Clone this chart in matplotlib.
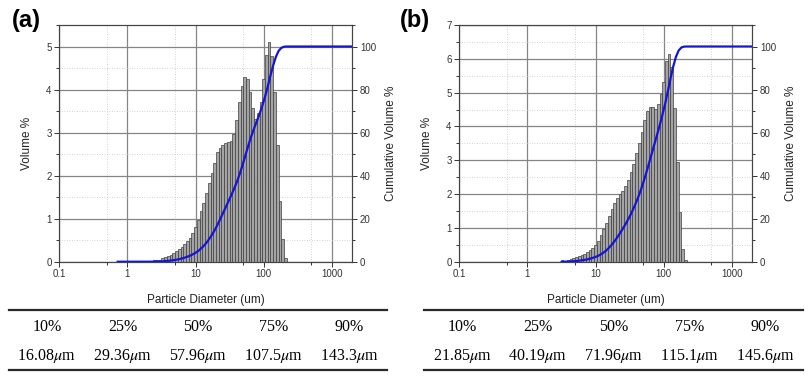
import numpy as np
import matplotlib
matplotlib.use('Agg')
import matplotlib.pyplot as plt
from matplotlib.ticker import FixedLocator, MultipleLocator, NullFormatter, FixedFormatter
from matplotlib.lines import Line2D

plt.rcParams['font.family'] = ['Liberation Sans', 'DejaVu Sans']
plt.rcParams['mathtext.fontset'] = 'stix'

# size classes (um), 25 per decade
diam_a = [2.09, 2.29, 2.51, 2.75, 3.02, 3.31, 3.63, 3.98, 4.37, 4.79,
          5.25, 5.75, 6.31, 6.92, 7.59, 8.32, 9.12, 10.0, 11.0, 12.0,
          13.2, 14.5, 15.8, 17.4, 19.1, 20.9, 22.9, 25.1, 27.5, 30.2,
          33.1, 36.3, 39.8, 43.7, 47.9, 52.5, 57.5, 63.1, 69.2, 75.9,
          83.2, 91.2, 100, 110, 120, 132, 145, 158, 174, 191, 209]
vol_a = [0.01, 0.02, 0.03, 0.04, 0.05, 0.08, 0.10, 0.13, 0.16, 0.20,
         0.24, 0.29, 0.34, 0.40, 0.47, 0.55, 0.66, 0.80, 0.98, 1.18,
         1.37, 1.59, 1.82, 2.05, 2.29, 2.56, 2.64, 2.72, 2.76, 2.78,
         2.80, 2.97, 3.30, 3.72, 4.08, 4.30, 4.24, 3.95, 3.58, 3.32,
         3.45, 3.72, 4.25, 4.80, 5.10, 4.78, 3.95, 2.72, 1.42, 0.52, 0.08]

diam_b = [3.31, 3.63, 3.98, 4.37, 4.79, 5.25, 5.75, 6.31, 6.92, 7.59,
          8.32, 9.12, 10.0, 11.0, 12.0, 13.2, 14.5, 15.8, 17.4, 19.1,
          20.9, 22.9, 25.1, 27.5, 30.2, 33.1, 36.3, 39.8, 43.7, 47.9,
          52.5, 57.5, 63.1, 69.2, 75.9, 83.2, 91.2, 100, 110, 120,
          132, 145, 158, 174, 191, 209]
vol_b = [0.02, 0.03, 0.05, 0.07, 0.10, 0.13, 0.16, 0.19, 0.24, 0.29,
         0.34, 0.40, 0.50, 0.62, 0.78, 0.96, 1.15, 1.36, 1.56, 1.74,
         1.88, 2.00, 2.10, 2.25, 2.42, 2.65, 2.90, 3.20, 3.50, 3.85,
         4.20, 4.47, 4.58, 4.57, 4.52, 4.65, 4.95, 5.30, 5.95, 6.14,
         5.77, 4.54, 2.96, 1.48, 0.39, 0.05]

# where the cumulative curve starts (um)
cum_start_a = 0.72
cum_start_b = 3.3

pct_labels = ['10%', '25%', '50%', '75%', '90%']
d_vals_a = ['16.08', '29.36', '57.96', '107.5', '143.3']
d_vals_b = ['21.85', '40.19', '71.96', '115.1', '145.6']

W, H = 808, 381
fig = plt.figure(figsize=(W / 100, H / 100), dpi=100)


def draw_panel(left_px, diam, vol, cum_start, ymax, ymax2, yticks):
    ax = fig.add_axes([left_px / W, 1 - 261.7 / H, 293 / W, 236.7 / H])
    d = np.array(diam, dtype=float)
    v = np.array(vol, dtype=float)
    mids = np.sqrt(d[:-1] * d[1:])
    edges = np.concatenate([[d[0] ** 2 / mids[0]], mids, [d[-1] ** 2 / mids[-1]]])
    ax.bar(edges[:-1], v, width=np.diff(edges), align='edge',
           facecolor='#a4a4a4', edgecolor='#3f3f3f', linewidth=0.5, zorder=2)
    ax.set_xscale('log')
    ax.set_xlim(0.1, 2000)
    ax.set_ylim(0, ymax)

    ax.xaxis.set_major_locator(FixedLocator([0.1, 1, 10, 100, 1000]))
    ax.xaxis.set_major_formatter(FixedFormatter(['0.1', '1', '10', '100', '1000']))
    ax.xaxis.set_minor_locator(FixedLocator([0.5, 5, 50, 500]))
    ax.xaxis.set_minor_formatter(NullFormatter())
    ax.yaxis.set_major_locator(FixedLocator(yticks))
    ax.yaxis.set_minor_locator(MultipleLocator(0.5))

    ax.grid(True, which='major', color='#858585', linewidth=0.9, zorder=0)
    ax.grid(True, which='minor', color='#c4c4c4', linewidth=0.6,
            linestyle=(0, (1, 2)), zorder=0)
    ax.set_axisbelow(True)
    ax.tick_params(which='both', direction='out', labelsize=7, colors='#333333',
                   width=0.7, pad=2)
    ax.tick_params(which='major', length=3.5)
    ax.tick_params(which='minor', length=2)
    for s in ax.spines.values():
        s.set_color('#444444')
        s.set_linewidth(0.8)

    ax.set_xlabel('Particle Diameter (um)', fontsize=8.5, color='#222222')
    ax.xaxis.set_label_coords(0.5, -0.135)
    ax.set_ylabel('Volume %', fontsize=8.5, color='#222222')
    ax.yaxis.set_label_coords(-0.09, 0.5)

    ax2 = ax.twinx()
    cum = np.cumsum(v) / v.sum() * 100
    cx = np.concatenate([[cum_start, edges[0]], edges[1:], [2000]])
    cy = np.concatenate([[0, 0], cum, [100]])
    ax2.plot(cx, cy, color='#1414dc', linewidth=1.6, zorder=5)
    ax2.set_ylim(0, ymax2)
    ax2.yaxis.set_major_locator(MultipleLocator(20))
    ax2.yaxis.set_minor_locator(MultipleLocator(10))
    ax2.tick_params(which='both', direction='out', labelsize=7, colors='#333333',
                    width=0.7, pad=2)
    ax2.tick_params(which='major', length=3.5)
    ax2.tick_params(which='minor', length=2)
    for s in ax2.spines.values():
        s.set_color('#444444')
        s.set_linewidth(0.8)
    ax2.set_ylabel('Cumulative Volume %', fontsize=8.5, color='#222222')
    ax2.yaxis.set_label_coords(1.113, 0.5)
    return ax, ax2


draw_panel(59.3, diam_a, vol_a, cum_start_a, 5.5, 110, [0, 1, 2, 3, 4, 5])
draw_panel(459.3, diam_b, vol_b, cum_start_b, 7, 110, [0, 1, 2, 3, 4, 5, 6, 7])

fig.text(26 / W, 1 - 20 / H, '(a)', fontsize=17, fontweight='bold',
         ha='center', va='center')
fig.text(415 / W, 1 - 20 / H, '(b)', fontsize=17, fontweight='bold',
         ha='center', va='center')


def draw_table(x0, x1, vals):
    for yy in (310, 370):
        fig.add_artist(Line2D([x0 / W, x1 / W], [1 - yy / H, 1 - yy / H],
                              color='#2a2a2a', linewidth=1.6))
    step = (x1 - x0) / 5
    for i in range(5):
        cx = x0 + step * (i + 0.5)
        fig.text(cx / W, 1 - 327 / H, pct_labels[i], fontsize=11.5,
                 family=['Liberation Serif'], ha='center', va='center')
        fig.text(cx / W, 1 - 356 / H, vals[i] + r'$\mu$m', fontsize=11.5,
                 family=['Liberation Serif'], ha='center', va='center')


draw_table(9, 387, d_vals_a)
draw_table(424, 803, d_vals_b)

fig.savefig('out.png', dpi=100)
